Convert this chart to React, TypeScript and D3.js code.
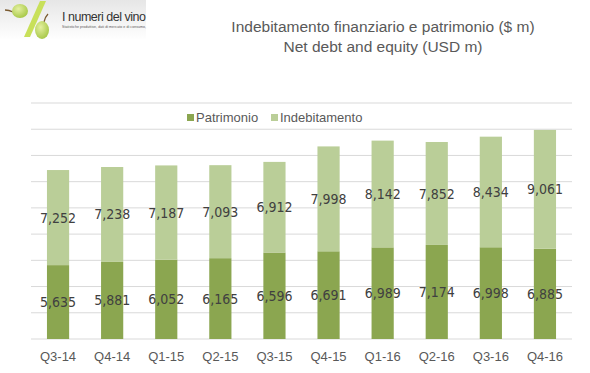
import React, { useEffect, useRef } from "react";
import * as d3 from "d3";

const quarters = ["Q3-14", "Q4-14", "Q1-15", "Q2-15", "Q3-15", "Q4-15", "Q1-16", "Q2-16", "Q3-16", "Q4-16"];
const patrimonio = [5635, 5881, 6052, 6165, 6596, 6691, 6989, 7174, 6998, 6885];
const indebitamento = [7252, 7238, 7187, 7093, 6912, 7998, 8142, 7852, 8434, 9061];
const gridTicks = [0, 2000, 4000, 6000, 8000, 10000, 12000, 14000, 16000, 18000];
const seriesNames = ["Patrimonio", "Indebitamento"];
const colors = ["#8BA650", "#BACE98"];

const App = () => {
  const svgRef = useRef<SVGSVGElement>(null);

  useEffect(() => {
    const width = 590;
    const height = 373;
    const margin = { top: 103, right: 18, bottom: 34, left: 31 };

    const svg = d3.select(svgRef.current);
    svg.selectAll("*").remove();
    svg.attr("width", width).attr("height", height).style("font-family", "'Liberation Sans', Arial, sans-serif");

    // logo
    const defs = svg.append("defs");
    const grad = defs.append("linearGradient").attr("id", "logoBg").attr("x1", 0).attr("x2", 0).attr("y1", 0).attr("y2", 1);
    grad.append("stop").attr("offset", "0%").attr("stop-color", "#e6e6e6");
    grad.append("stop").attr("offset", "100%").attr("stop-color", "#ffffff");
    const grape = defs.append("radialGradient").attr("id", "grape").attr("cx", "40%").attr("cy", "35%").attr("r", "65%");
    grape.append("stop").attr("offset", "0%").attr("stop-color", "#e4f0a0");
    grape.append("stop").attr("offset", "100%").attr("stop-color", "#a9c94a");

    const logo = svg.append("g");
    logo.append("rect").attr("x", 0).attr("y", 0).attr("width", 146).attr("height", 40).attr("fill", "url(#logoBg)");
    logo.append("path").attr("d", "M5,10 Q9,10 13,12").attr("stroke", "#7a5a30").attr("stroke-width", 1.3).attr("fill", "none");
    logo.append("ellipse").attr("cx", 20).attr("cy", 11).attr("rx", 8).attr("ry", 7).attr("fill", "url(#grape)");
    logo.append("path").attr("d", "M40,1 L46,1 L30,37 L24,37 Z").attr("fill", "#c8e05a");
    logo.append("path").attr("d", "M48,14 Q45,17 44,22").attr("stroke", "#7a5a30").attr("stroke-width", 1.3).attr("fill", "none");
    logo.append("ellipse").attr("cx", 42).attr("cy", 30).attr("rx", 7).attr("ry", 9).attr("fill", "url(#grape)");
    logo.append("text").attr("x", 62).attr("y", 21).attr("font-size", 12.5).attr("fill", "#333").attr("textLength", 84).text("I numeri del vino");
    logo.append("text").attr("x", 62).attr("y", 28).attr("font-size", 3.5).attr("fill", "#555").attr("textLength", 84).text("Statistiche produttive, dati di mercato e di consumo,");

    // title
    svg.append("text").attr("x", 383).attr("y", 32).attr("text-anchor", "middle").attr("font-size", 15.5).attr("fill", "#595959")
      .text("Indebitamento finanziario e patrimonio ($ m)");
    svg.append("text").attr("x", 383).attr("y", 52).attr("text-anchor", "middle").attr("font-size", 15.5).attr("fill", "#595959")
      .text("Net debt and equity (USD m)");

    const x = d3.scaleBand().domain(quarters).range([margin.left, width - margin.right]).paddingInner(0.59).paddingOuter(0.295);
    const y = d3.scaleLinear().domain([0, 18000]).range([height - margin.bottom, margin.top]);

    // grid
    svg.append("g").selectAll("line").data(gridTicks).join("line")
      .attr("x1", margin.left).attr("x2", width - margin.right)
      .attr("y1", (d) => y(d)).attr("y2", (d) => y(d))
      .attr("stroke", "#d9d9d9").attr("stroke-width", 1);

    const data = quarters.map((q, i) => ({ q, patrimonio: patrimonio[i], indebitamento: indebitamento[i] }));
    const stack = d3.stack<any>().keys(["patrimonio", "indebitamento"])(data);

    stack.forEach((layer, li) => {
      const g = svg.append("g");
      g.selectAll("rect").data(layer).join("rect")
        .attr("x", (d: any) => x(d.data.q)!)
        .attr("width", x.bandwidth())
        .attr("y", (d) => y(d[1]))
        .attr("height", (d) => y(d[0]) - y(d[1]))
        .attr("fill", colors[li]);
      g.selectAll("text").data(layer).join("text")
        .attr("x", (d: any) => x(d.data.q)! + x.bandwidth() / 2)
        .attr("y", (d) => (y(d[0]) + y(d[1])) / 2)
        .attr("dy", "0.36em")
        .attr("text-anchor", "middle")
        .attr("font-family", "'DejaVu Sans Condensed', 'DejaVu Sans', sans-serif")
        .attr("font-size", 14)
        .attr("fill", "#404040")
        .text((d) => d3.format(",")(d[1] - d[0]));
    });

    // x axis labels
    svg.append("g").selectAll("text").data(quarters).join("text")
      .attr("x", (d) => x(d)! + x.bandwidth() / 2)
      .attr("y", height - margin.bottom + 22)
      .attr("text-anchor", "middle")
      .attr("font-size", 13)
      .attr("fill", "#595959")
      .text((d) => d);

    // legend
    const legend = svg.append("g");
    const legendX = [187, 271];
    seriesNames.forEach((name, i) => {
      legend.append("rect").attr("x", legendX[i]).attr("y", 114).attr("width", 7).attr("height", 7).attr("fill", colors[i]);
      legend.append("text").attr("x", legendX[i] + 9).attr("y", 121.5).attr("font-size", 13).attr("fill", "#595959").text(name);
    });
  }, []);

  return (
    <div style={{ position: "absolute", left: 0, top: 0, background: "#fff" }}>
      <svg ref={svgRef} />
    </div>
  );
};

export default App;
